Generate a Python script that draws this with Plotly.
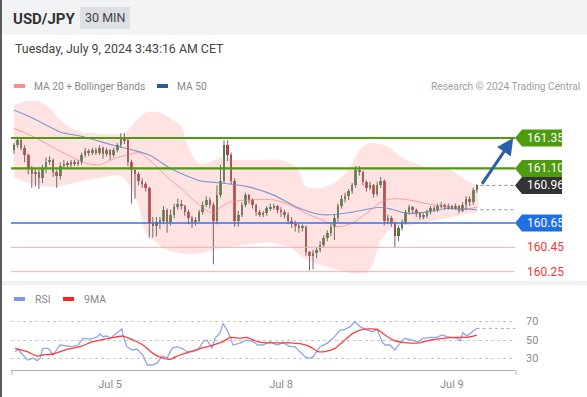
import plotly.graph_objects as go

# ---------------- data ----------------
bar_index = list(range(131))
opens = [161.25,161.29,161.33,161.27,161.21,161.10,161.05,161.07,161.02,161.10,
         161.15,161.17,161.07,161.04,161.12,161.14,161.13,161.15,161.14,161.15,
         161.21,161.24,161.23,161.25,161.23,161.27,161.22,161.25,161.21,161.25,
         161.29,161.34,161.33,161.15,161.09,161.05,161.00,160.97,160.94,160.65,
         160.63,160.66,160.67,160.76,160.66,160.72,160.78,160.81,160.79,160.74,
         160.69,160.66,160.67,160.74,160.80,160.84,160.80,160.67,160.88,161.00,
         161.29,161.21,161.00,160.67,160.72,160.80,160.88,160.84,160.80,160.74,
         160.72,160.73,160.77,160.78,160.79,160.76,160.74,160.72,160.67,160.64,
         160.63,160.61,160.62,160.41,160.38,160.40,160.43,160.47,160.53,160.57,
         160.62,160.69,160.79,160.85,160.87,160.91,160.96,161.09,161.07,160.99,
         160.94,160.96,160.89,160.96,161.00,160.67,160.69,160.65,160.54,160.61,
         160.66,160.74,160.78,160.76,160.73,160.70,160.71,160.74,160.77,160.76,
         160.79,160.80,160.78,160.79,160.78,160.79,160.75,160.80,160.85,160.82,
         160.92]
closes = [161.29,161.33,161.27,161.21,161.10,161.05,161.07,161.02,161.10,161.15,
          161.17,161.07,161.04,161.12,161.14,161.13,161.15,161.14,161.15,161.21,
          161.24,161.23,161.25,161.23,161.27,161.22,161.25,161.21,161.25,161.29,
          161.34,161.33,161.15,161.09,161.05,161.00,160.97,160.94,160.65,160.63,
          160.66,160.67,160.76,160.66,160.72,160.78,160.81,160.79,160.74,160.69,
          160.66,160.67,160.74,160.80,160.84,160.80,160.67,160.88,161.00,161.29,
          161.21,161.00,160.67,160.72,160.80,160.88,160.84,160.80,160.74,160.72,
          160.73,160.77,160.78,160.79,160.76,160.74,160.72,160.67,160.64,160.63,
          160.61,160.62,160.41,160.38,160.40,160.43,160.47,160.53,160.57,160.62,
          160.69,160.79,160.85,160.87,160.91,160.96,161.09,161.07,160.99,160.94,
          160.96,160.89,160.96,161.00,160.67,160.69,160.65,160.54,160.61,160.66,
          160.74,160.78,160.76,160.73,160.70,160.71,160.74,160.77,160.76,160.79,
          160.80,160.78,160.79,160.78,160.79,160.75,160.80,160.85,160.82,160.92,
          160.96]
highs = [161.31,161.36,161.35,161.29,161.22,161.12,161.10,161.09,161.13,161.19,
         161.20,161.18,161.09,161.15,161.17,161.16,161.17,161.17,161.17,161.23,
         161.27,161.26,161.27,161.27,161.29,161.28,161.27,161.26,161.27,161.31,
         161.39,161.39,161.35,161.17,161.11,161.07,161.02,160.99,160.95,160.70,
         160.70,160.70,160.79,160.77,160.76,160.81,160.85,160.84,160.80,160.76,
         160.71,160.70,160.76,160.83,160.87,160.86,160.82,160.96,161.13,161.33,
         161.33,161.23,161.02,160.75,160.82,160.90,160.89,160.85,160.81,160.76,
         160.75,160.79,160.81,160.81,160.80,160.78,160.76,160.74,160.70,160.67,
         160.65,160.64,160.63,160.42,160.43,160.45,160.50,160.55,160.59,160.64,
         160.72,160.81,160.88,160.90,160.93,160.98,161.12,161.12,161.08,161.00,
         160.99,160.97,160.99,161.03,161.01,160.72,160.71,160.66,160.63,160.68,
         160.76,160.80,160.79,160.77,160.74,160.73,160.76,160.79,160.79,160.81,
         160.82,160.81,160.81,160.80,160.81,160.80,160.82,160.87,160.87,160.94,
         160.97]
lows = [161.22,161.27,161.25,161.15,161.05,160.94,160.95,160.93,160.98,161.06,
        161.13,161.03,160.94,161.01,161.10,161.10,161.11,161.12,161.12,161.13,
        161.19,161.20,161.21,161.21,161.21,161.18,161.20,161.17,161.19,161.23,
        161.27,161.30,161.12,160.81,160.85,160.96,160.94,160.91,160.53,160.53,
        160.54,160.60,160.64,160.57,160.63,160.69,160.76,160.76,160.71,160.64,
        160.61,160.63,160.65,160.72,160.78,160.77,160.31,160.64,160.86,160.98,
        161.16,160.97,160.62,160.62,160.70,160.78,160.81,160.77,160.71,160.70,
        160.70,160.71,160.75,160.76,160.73,160.70,160.69,160.64,160.61,160.58,
        160.57,160.58,160.38,160.26,160.27,160.36,160.41,160.45,160.50,160.54,
        160.51,160.66,160.77,160.82,160.84,160.89,160.94,161.04,160.96,160.91,
        160.92,160.86,160.87,160.94,160.63,160.64,160.62,160.45,160.50,160.59,
        160.64,160.72,160.73,160.70,160.68,160.68,160.69,160.72,160.74,160.74,
        160.77,160.76,160.76,160.76,160.76,160.73,160.74,160.76,160.79,160.80,
        160.90]

band_upper_x = [0,3,7,10,13,16,18.5,23,27,31,34,37,41,44,47,49,52,55,58,62,
                65,70,75,79.5,82,86,90,94,97,100,105,109,116,122.5,127,130]
band_upper = [161.62,161.65,161.65,161.60,161.50,161.43,161.40,161.39,161.38,161.39,
              161.48,161.56,161.56,161.51,161.44,161.27,161.14,161.15,161.19,161.17,
              161.17,161.17,161.17,161.11,160.95,160.94,160.98,161.09,161.25,161.31,
              161.28,161.19,161.11,161.09,161.00,160.95]
band_lower_x = [0,6,12,18.5,24,30,32.5,35,37,43,47.5,52,59,65,71,77.5,82,88,95,99,
                101,103,106.5,111,116,121.5,128,130]
band_lower = [161.03,160.96,160.95,160.99,161.02,161.04,160.96,160.80,160.57,160.43,
              160.40,160.40,160.45,160.47,160.49,160.45,160.35,160.29,160.24,160.24,
              160.33,160.51,160.62,160.63,160.66,160.69,160.73,160.74]
ma20_x = [0,5.5,15,20.5,24,29,32,35,38,43,47.5,52,56,58,60.5,65.5,73,77.5,82,87,
          91,95,99,103,106.5,111,116,121.5,125,130]
ma20 = [161.43,161.36,161.21,161.14,161.13,161.19,161.21,161.23,161.17,161.03,
        160.92,160.80,160.73,160.78,160.82,160.84,160.84,160.80,160.73,160.67,
        160.62,160.65,160.73,160.82,160.85,160.84,160.81,160.78,160.76,160.78]
ma50_x = [0,5.5,13,19.5,28,33.5,38,44,52,58,65.5,73,79.5,86,90,95,103,106.5,110.5,116,121.5,130]
ma50 = [161.58,161.51,161.40,161.36,161.29,161.25,161.21,161.10,161.00,160.98,
        160.95,160.88,160.78,160.72,160.72,160.74,160.78,160.76,160.73,160.74,160.77,160.76]

rsi_x = [0.3,1.1,2.5,3.9,5.3,6.5,7.3,8.1,9.6,11,
         12.9,14.9,16.3,18,19.4,21.3,23.3,24.2,25,26.1,
         27,28.9,30.3,30.6,31.7,33.1,34.6,36.2,37.4,38.8,
         40.2,41.6,43,44.4,45.8,47.2,48.6,50.3,51.7,53.1,
         54.2,55.6,56.5,57.9,58.7,59.8,60.7,61.5,63.5,65.4,
         67.1,68.5,69.9,71.9,73.9,75.6,77.5,78.9,80.3,81.7,
         83.1,84,86,87.9,89.6,91.6,93,94.4,95.8,97.2,
         99.2,100.8,102,103.4,104.2,105.6,107,108.4,109.8,111.8,
         113.5,114.9,116.9,118.8,120.2,121.6,123.3,124.7,125.3,126.1,
         127.2,128.7,130]
rsi = [37.4,40,33.8,28.4,30.5,27.6,30.5,41,41,33.8,
       44.6,43.5,42.8,44.6,52,51,53,56.5,53.6,54.3,
       52,57.6,62,55.4,42.8,39.2,40,33.8,23,23,
       25,32.7,30.5,41,42.8,41,37.4,37.4,39.2,48.2,
       50,41,52,57.6,68,61,53.6,44.6,46.7,50,
       48.2,44.6,44.6,48.2,44.6,47,42.8,42.8,37.4,32,
       30.2,32,42.8,46.4,51.8,60.8,61.5,64.4,69.8,64.4,
       60.8,59,61.5,48.2,44.6,44.6,39.2,46.4,51.8,50,
       48.2,51.8,52.9,52.9,55.4,53.6,52.9,51.8,48.9,57.9,
       54.3,59,62.6]
rsi_ma_x = [0.3,3.7,6.5,8.1,11,14.9,18.5,22.2,27,30.6,
            33.4,36.2,39,41.9,43.8,46.6,50.3,53.1,55.9,58.7,
            60.7,63.5,65.4,68.3,71.1,75.6,77.5,80.3,83.1,85.4,
            87.9,90.2,92.4,95.2,98,102,104.2,106.5,110.4,114,
            116.9,120.5,124.4,127.2,130]
rsi_ma = [41,37.4,32.7,33.8,34.9,39.9,42.8,48.2,52,54.3,
          50,44.6,35.6,30.3,29.2,33.8,38.4,41.7,44.6,48.2,
          52.9,51.8,52.9,48.2,47,47,47,46,42.8,37.4,
          38.1,41,48.2,57.2,61.5,61.5,55.4,50,47,47,
          50,51.8,52.9,52.9,55.4]

resistances = [161.35, 161.10]
pivot = 160.65
supports = [160.45, 160.25]
rsi_levels = [30, 50, 70]
date_ticks = [27, 75, 123]
date_labels = ["Jul 5", "Jul 8", "Jul 9"]

# ---------------- layout helpers ----------------
W, H = 587, 397
FONT = "Roboto, Arial, sans-serif"
def fx(px):
    return px / W
def fy(py):
    return 1 - py / H

X_RANGE = [-0.84, 140.73]
Y_RANGE = [160.165, 161.704]
RSI_RANGE = [17.6, 84.6]
GREEN = "#4e9c0e"
BLUE = "#1f6fe5"
RED_TXT = "#ff3434"

fig = go.Figure()

# Bollinger band
fig.add_trace(go.Scatter(
    x=band_upper_x + band_lower_x[::-1], y=band_upper + band_lower[::-1],
    mode="lines", fill="toself", fillcolor="rgba(255,170,170,0.33)",
    line=dict(width=0, shape="spline", smoothing=0.7), hoverinfo="skip"))
fig.add_trace(go.Scatter(x=ma20_x, y=ma20, mode="lines",
                         line=dict(color="#ff9a9a", width=1, shape="spline", smoothing=0.7)))
fig.add_trace(go.Scatter(x=ma50_x, y=ma50, mode="lines",
                         line=dict(color="#7c98cc", width=1.1, shape="spline", smoothing=0.7)))

# wicks
wx, wy = [], []
for i, h, l in zip(bar_index, highs, lows):
    wx += [i, i, None]
    wy += [l, h, None]
fig.add_trace(go.Scatter(x=wx, y=wy, mode="lines", line=dict(color="#6a6a6a", width=1)))

# bodies
base = [min(o, c) for o, c in zip(opens, closes)]
height = [max(abs(c - o), 0.007) for o, c in zip(opens, closes)]
colors = ["#2e8b2e" if c >= o else "#d42a2a" for o, c in zip(opens, closes)]
fig.add_trace(go.Bar(x=bar_index, y=height, base=base, width=0.72,
                     marker=dict(color=colors, line=dict(width=0))))

last_i = bar_index[-1]
last_c = closes[-1]

# dotted guides after last candle
fig.add_trace(go.Scatter(x=[last_i + 1, X_RANGE[1]], y=[last_c, last_c], mode="lines",
                         line=dict(color="#8a8a8a", width=1, dash="dot")))
fig.add_trace(go.Scatter(x=[last_i + 1, X_RANGE[1]], y=[ma50[-1], ma50[-1]], mode="lines",
                         line=dict(color="#7c98cc", width=1, dash="dot")))

# RSI panel
fig.add_trace(go.Scatter(x=rsi_x, y=rsi, mode="lines", xaxis="x2", yaxis="y2",
                         line=dict(color="#8da6ec", width=1.3)))
fig.add_trace(go.Scatter(x=rsi_ma_x, y=rsi_ma, mode="lines", xaxis="x2", yaxis="y2",
                         line=dict(color="#ff3b3b", width=1.3, shape="spline", smoothing=0.6)))
fig.add_trace(go.Scatter(x=[rsi_x[-1], X_RANGE[1]], y=[rsi[-1], rsi[-1]], mode="lines",
                         xaxis="x2", yaxis="y2",
                         line=dict(color="#8da6ec", width=1, dash="dot")))

shapes = []
annotations = []

# header
shapes.append(dict(type="rect", xref="paper", yref="paper", x0=0, x1=1, y0=fy(35), y1=1,
                   fillcolor="#f2f3f5", line=dict(width=0), layer="below"))
shapes.append(dict(type="rect", xref="paper", yref="paper", x0=fx(80), x1=fx(130),
                   y0=fy(29), y1=fy(7), fillcolor="#dcdfe4", line=dict(width=0), layer="below"))
shapes.append(dict(type="line", xref="paper", yref="paper", x0=fx(1), x1=fx(1), y0=0, y1=1,
                   line=dict(color="#5a5a5a", width=2)))
shapes.append(dict(type="rect", xref="paper", yref="paper", x0=fx(2), x1=1, y0=fy(285), y1=fy(281),
                   fillcolor="#eef0f2", line=dict(width=0), layer="below"))

# level lines
for lv in resistances:
    shapes.append(dict(type="line", xref="x domain", yref="y", x0=0, x1=1, y0=lv, y1=lv,
                       line=dict(color=GREEN, width=2.2)))
shapes.append(dict(type="line", xref="x domain", yref="y", x0=0, x1=1, y0=pivot, y1=pivot,
                   line=dict(color="#3a6fe6", width=1.5)))
for lv in supports:
    shapes.append(dict(type="line", xref="x domain", yref="y", x0=0, x1=1, y0=lv, y1=lv,
                       line=dict(color="#ffaaaa", width=1)))

# badges
def badge(level, color):
    shapes.append(dict(type="path", xref="paper", yref="y", xsizemode="pixel", ysizemode="pixel",
                       xanchor=0, yanchor=level,
                       path="M 515,0 L 522,8.5 L 562,8.5 L 562,-8.5 L 522,-8.5 Z",
                       fillcolor=color, line=dict(width=0)))
    annotations.append(dict(x=fx(525), y=level, xref="paper", yref="y", xanchor="left",
                            yanchor="middle", text=f"{level:.2f}", showarrow=False,
                            font=dict(family=FONT, size=12, color="white")))
for lv in resistances:
    badge(lv, GREEN)
badge(last_c, "#333333")
badge(pivot, BLUE)
for lv in supports:
    annotations.append(dict(x=fx(525), y=lv, xref="paper", yref="y", xanchor="left",
                            yanchor="middle", text=f"{lv:.2f}", showarrow=False,
                            font=dict(family=FONT, size=12, color=RED_TXT)))

# arrow
annotations.append(dict(x=X_RANGE[1] - 0.5, y=resistances[0], ax=last_i + 1.2, ay=last_c,
                        xref="x", yref="y", axref="x", ayref="y", text="", showarrow=True,
                        arrowhead=2, arrowsize=1.1, arrowwidth=3, arrowcolor="#2c5faa"))

# legend swatches
def swatch(x0, x1, py, color):
    shapes.append(dict(type="line", xref="paper", yref="paper", x0=fx(x0), x1=fx(x1),
                       y0=fy(py), y1=fy(py), line=dict(color=color, width=4)))
swatch(14, 25, 86, "#ff8a8a")
swatch(157, 168, 86, "#2d5c9e")
swatch(14, 25, 299, "#7a9ae8")
swatch(63, 74, 299, "#ff2020")

# axis end ticks
for px in (12, 516):
    shapes.append(dict(type="line", xref="paper", yref="paper", x0=fx(px), x1=fx(px),
                       y0=fy(375), y1=fy(370), line=dict(color="#b0b0b0", width=1)))

def text(px, py, s, size, color, anchor="left", bold=False):
    annotations.append(dict(x=fx(px), y=fy(py), xref="paper", yref="paper", xanchor=anchor,
                            yanchor="middle", text=(f"<b>{s}</b>" if bold else s),
                            showarrow=False, font=dict(family=FONT, size=size, color=color)))

text(11, 19, "USD/JPY", 15, "#333333", bold=True)
text(105, 18, "30 MIN", 12.5, "#444444", anchor="center")
text(13, 48, "Tuesday, July 9, 2024 3:43:16 AM CET", 12.4, "#444444")
text(32, 86, "MA 20 + Bollinger Bands", 10.2, "#8a8a8a")
text(175, 86, "MA 50", 10.2, "#8a8a8a")
text(582, 86, "Research © 2024 Trading Central", 10.2, "#a0a0a0", anchor="right")
text(33, 299, "RSI", 10.5, "#8a8a8a")
text(82, 299, "9MA", 10.5, "#8a8a8a")

fig.update_layout(
    width=W, height=H, margin=dict(l=0, r=0, t=0, b=0),
    paper_bgcolor="white", plot_bgcolor="rgba(0,0,0,0)",
    showlegend=False, hovermode=False, bargap=0,
    font=dict(family=FONT),
    shapes=shapes, annotations=annotations,
    xaxis=dict(domain=[fx(11), fx(515)], range=X_RANGE, visible=False, anchor="y"),
    yaxis=dict(domain=[fy(282), fy(95)], range=Y_RANGE, visible=False, anchor="x"),
    xaxis2=dict(domain=[fx(11), fx(515)], range=X_RANGE, anchor="y2",
                showline=True, linecolor="#b0b0b0", linewidth=1, showgrid=False, zeroline=False,
                tickvals=date_ticks, ticktext=date_labels, ticks="",
                ticklabelstandoff=4,
                tickfont=dict(family=FONT, size=11, color="#8c8c8c")),
    yaxis2=dict(domain=[fy(370), fy(308)], range=RSI_RANGE, anchor="x2", side="right",
                tickvals=rsi_levels, showgrid=True, gridcolor="#c8c8c8", griddash="dot",
                gridwidth=1, zeroline=False, showline=False, ticks="",
                ticklabelstandoff=10,
                tickfont=dict(family=FONT, size=11, color="#8c8c8c")),
)

fig.write_html("out.html", config={"displayModeBar": False})

# remove the default page margin so the figure fills the window exactly
with open("out.html", "r", encoding="utf-8") as f:
    html = f.read()
html = html.replace("<head>", "<head><style>html,body{margin:0;padding:0;overflow:hidden;}</style>", 1)
with open("out.html", "w", encoding="utf-8") as f:
    f.write(html)
